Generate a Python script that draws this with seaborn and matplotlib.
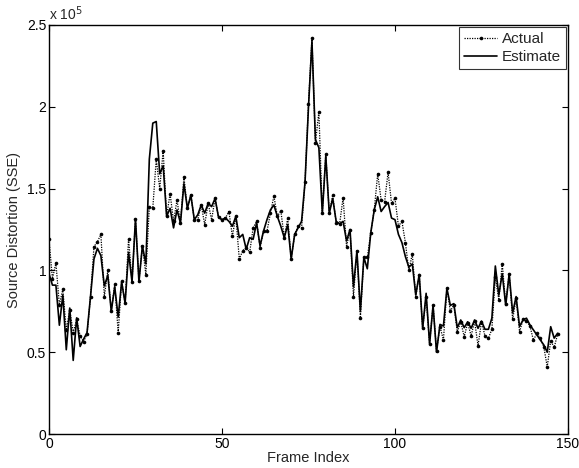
import numpy as np
import pandas as pd
import matplotlib
matplotlib.use("Agg")
import matplotlib.pyplot as plt
import seaborn as sns
from matplotlib.ticker import FuncFormatter

actual_k = [119, 95, 104.5, 79, 88.5, 63.5, 76, 62, 70, 60,
            56.5, 61, 84, 114.5, 117.5, 122, 84, 100, 75, 91.5,
            62, 93.5, 80, 119.5, 93, 131.5, 93.5, 115, 97.5, 139,
            138, 168, 150, 173, 133, 147, 130, 143, 129, 157,
            138, 146, 131, 131, 140, 128, 141, 131, 144, 132.5,
            131, 132, 136, 121, 133, 107, 112, 114, 111, 126,
            130, 114, 124, 124, 135, 145.5, 133, 136.5, 120, 132,
            107, 122, 127, 126, 154, 202, 242, 178, 197, 135,
            171, 135, 146, 129, 128.5, 144.5, 114.5, 125, 84, 112,
            71, 108, 108, 123, 137, 159, 143, 142, 160, 141,
            144, 127, 130, 117, 100, 110, 84, 97, 64.5, 84,
            55, 79, 51, 65.6, 57.5, 89, 75, 79, 62.5, 68.7,
            59.5, 68, 60, 69, 54, 68.6, 60, 58.5, 64, 96,
            82, 104, 79.5, 98, 70, 83, 62.5, 70, 69, 66,
            57.4, 61.5, 58.5, 53.4, 41, 57, 53, 61]

estimate_k = [98, 91, 91, 66.5, 85, 51.5, 77, 45, 71, 53.5,
              58, 62, 84, 107, 113.5, 109, 90.5, 97, 75, 90,
              71.5, 93, 80, 111, 93, 131.5, 93, 115, 104, 168,
              190, 191, 159, 164, 133, 138, 126, 137, 129, 153,
              138, 146, 131, 134, 140, 135, 141, 139, 144, 132.5,
              131, 132, 130, 127, 133, 120, 122, 113, 120, 119,
              129, 115, 124, 131, 137, 140, 133, 127, 120, 128,
              107, 122, 126, 130, 154, 200, 240, 180, 175, 135,
              170, 135, 144, 130, 128.5, 130, 118, 125, 90, 112,
              75, 108, 101, 123, 137, 145, 136, 139, 141.5, 132,
              131, 122, 117, 108.5, 102, 104, 85, 97.5, 64.6, 86,
              55, 78.6, 50, 67, 66, 89, 78.6, 79.7, 65, 69.7,
              65, 68.6, 64.6, 69.7, 64.6, 69, 64, 64, 70.8, 102.7,
              85, 98, 78.6, 98, 74, 84, 65.8, 69.7, 70.8, 66.7,
              63.6, 60.5, 57.5, 54.5, 50, 65.6, 58.6, 61.6]

frames = list(range(len(actual_k)))
x_ticks = [0, 50, 100, 150]
y_ticks = [0, 0.5e5, 1e5, 1.5e5, 2e5, 2.5e5]

df = pd.DataFrame({
    "frame": frames,
    "Actual": np.array(actual_k) * 1000,
    "Estimate": np.array(estimate_k) * 1000,
})

sns.set_style("ticks")
plt.rcParams["font.family"] = ["Liberation Sans", "DejaVu Sans"]

fig = plt.figure(figsize=(5.79, 4.68), dpi=100)
ax = fig.add_axes([0.0846, 0.0726, 0.8964, 0.874])

sns.lineplot(data=df, x="frame", y="Actual", ax=ax, color="black",
             linestyle=(0, (1, 1)), linewidth=0.9, marker="o", markersize=2.6,
             markeredgewidth=0, label="Actual")
sns.lineplot(data=df, x="frame", y="Estimate", ax=ax, color="black",
             linestyle="-", linewidth=1.2, label="Estimate")

ax.set_xlim(0, 150)
ax.set_ylim(0, 2.5e5)
ax.set_xticks(x_ticks)
ax.set_yticks(y_ticks)
ax.yaxis.set_major_formatter(FuncFormatter(lambda v, p: ("%g" % (v / 1e5))))
ax.tick_params(direction="in", length=4, width=0.8, top=True, right=True,
               labelsize=10, pad=2, colors="black")
for s in ax.spines.values():
    s.set_visible(True)
    s.set_linewidth(1.0)
    s.set_color("black")

ax.set_xlabel("Frame Index", fontsize=10.5, labelpad=0)
ax.set_ylabel("Source Distortion (SSE)", fontsize=10.5, labelpad=4)
ax.text(0.0, 1.005, r"x 10$^5$", transform=ax.transAxes, fontsize=10,
        ha="left", va="bottom")

leg = ax.legend(loc="upper right", fontsize=11, frameon=True, fancybox=False,
                borderaxespad=0.15, handlelength=2.2, handletextpad=0.3,
                borderpad=0.3, labelspacing=0.3)
leg.get_frame().set_edgecolor("black")
leg.get_frame().set_linewidth(0.8)

fig.savefig("out.png", dpi=100)
